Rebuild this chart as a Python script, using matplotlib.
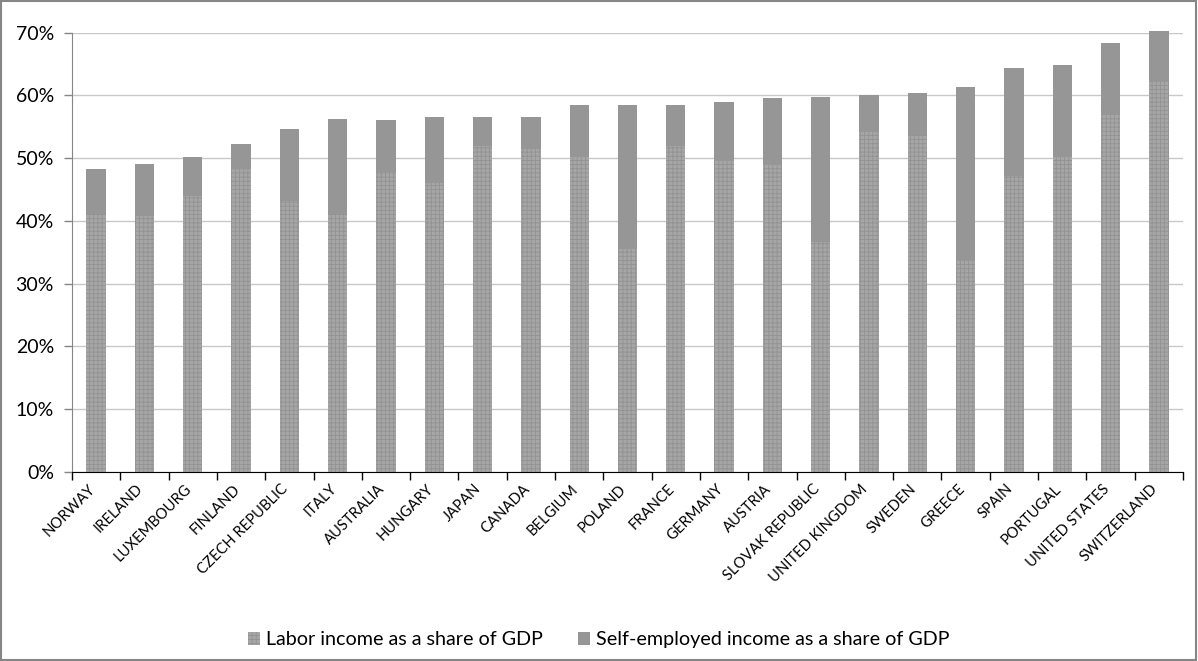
import matplotlib
matplotlib.use("Agg")
import matplotlib.pyplot as plt
import matplotlib.transforms as mtransforms
import numpy as np
from matplotlib.patches import Rectangle
from matplotlib.ticker import PercentFormatter, FixedLocator

plt.rcParams['font.family'] = ['Lato', 'DejaVu Sans']
plt.rcParams['hatch.linewidth'] = 0.6

countries = ["NORWAY", "IRELAND", "LUXEMBOURG", "FINLAND", "CZECH REPUBLIC", "ITALY",
             "AUSTRALIA", "HUNGARY", "JAPAN", "CANADA", "BELGIUM", "POLAND", "FRANCE",
             "GERMANY", "AUSTRIA", "SLOVAK REPUBLIC", "UNITED KINGDOM", "SWEDEN", "GREECE",
             "SPAIN", "PORTUGAL", "UNITED STATES", "SWITZERLAND"]
# total share (labor + self-employed), in %
total = [48.2, 49.1, 50.2, 52.2, 54.7, 56.3, 56.1, 56.5, 56.5, 56.6, 58.4, 58.5, 58.5,
         59.0, 59.5, 59.8, 60.1, 60.3, 61.4, 64.4, 64.8, 68.4, 70.3]
labor = [41.1, 40.8, 43.9, 48.3, 43.1, 41.1, 47.8, 46.1, 52.0, 51.4, 50.1, 35.5, 52.0,
         49.6, 48.9, 36.7, 54.2, 53.7, 33.6, 47.2, 50.1, 56.8, 62.2]
self_employed = [t - l for t, l in zip(total, labor)]

fig = plt.figure(figsize=(11.98, 6.61), dpi=100)
ax = fig.add_axes([0.0601, 0.2859, 0.9274, 0.6649])

x = np.arange(len(countries))
w = 0.40
ax.bar(x, labor, width=w, color='#a6a6a6', edgecolor='#929292', hatch='++++',
       linewidth=0, zorder=3, label='Labor income as a share of GDP', clip_on=False)
ax.bar(x, self_employed, bottom=labor, width=w, color='#969696', linewidth=0,
       zorder=3, label='Self-employed income as a share of GDP', clip_on=False)

ax.set_xlim(-0.5, len(countries) - 0.5)
ax.set_ylim(0, 70)
ax.yaxis.set_major_locator(FixedLocator(np.arange(0, 71, 10)))
ax.yaxis.set_major_formatter(PercentFormatter(decimals=0))
ax.grid(axis='y', color='#c8c8c8', linewidth=1, zorder=0)
ax.set_axisbelow(True)

ax.set_xticks(x)
ax.set_xticklabels(countries, rotation=45, ha='right', va='top', rotation_mode='anchor',
                   fontsize=10.6, color='#000000')
ax.tick_params(axis='x', which='major', length=0, pad=7)
offset = mtransforms.ScaledTranslation(-6 / 72, 0, fig.dpi_scale_trans)
for lbl in ax.get_xticklabels():
    lbl.set_transform(lbl.get_transform() + offset)
ax.set_xticks(np.arange(-0.5, len(countries)), minor=True)
ax.tick_params(axis='x', which='minor', length=6, width=1, color='#000000', direction='out')
ax.tick_params(axis='y', length=6, width=1, color='#868686', labelsize=14, pad=7)

for s in ['top', 'right']:
    ax.spines[s].set_visible(False)
ax.spines['left'].set_color('#868686')
ax.spines['bottom'].set_color('#000000')
ax.spines['bottom'].set_zorder(5)

leg = fig.legend(loc='center', bbox_to_anchor=(0.5, 0.032), ncol=2, frameon=False,
                 fontsize=14.2, handlelength=0.6, handleheight=0.6, handletextpad=0.3,
                 columnspacing=1.8)

fig.patches.append(Rectangle((0.001, 0.002), 0.997, 0.996, transform=fig.transFigure,
                             fill=False, edgecolor='#868686', linewidth=1.5))

fig.savefig('out.png', dpi=100)
